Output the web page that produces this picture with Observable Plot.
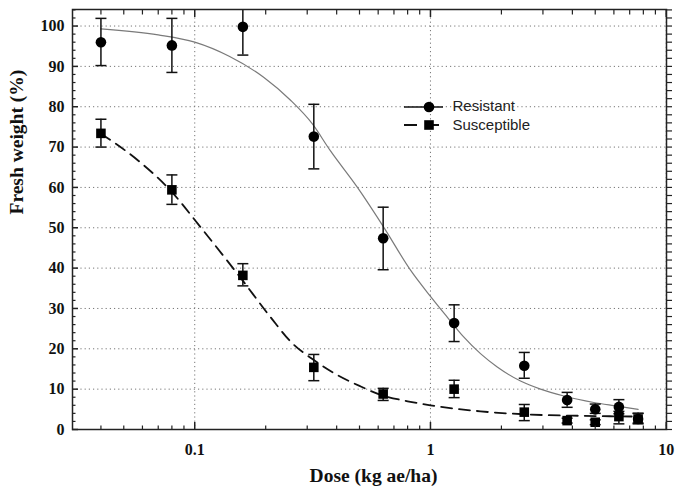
<!DOCTYPE html>
<html><head><meta charset="utf-8">
<script src="https://cdn.jsdelivr.net/npm/d3@7"></script>
<script src="https://cdn.jsdelivr.net/npm/@observablehq/plot@0.6"></script>
<style>
body{margin:0;background:#fff;}
#chart{width:676px;height:491px;}
</style></head><body><div id="chart"></div>
<script>
// Observed dose points (kg ae/ha)
const doses = [0.04, 0.08, 0.16, 0.32, 0.63, 1.26, 2.5, 3.8, 5, 6.3, 7.6];
const resistantMean = [96.0, 95.2, 99.8, 72.6, 47.4, 26.4, 15.8, 7.3, 5.0, 5.6, 2.6];
const resistantLo   = [90.2, 88.5, 92.8, 64.6, 39.6, 21.8, 12.7, 5.5, 4.0, 3.9, 1.6];
const resistantHi   = [101.9, 101.9, 106.0, 80.6, 55.1, 30.9, 19.1, 9.2, 6.3, 7.4, 4.0];
const susceptibleMean = [73.4, 59.4, 38.2, 15.4, 8.8, 10.0, 4.3, 2.2, 1.8, 3.2, 2.6];
const susceptibleLo   = [70.0, 55.8, 35.6, 12.1, 7.2, 7.9, 2.2, 1.6, 1.2, 1.4, 1.4];
const susceptibleHi   = [76.9, 63.1, 41.1, 18.6, 10.2, 12.2, 6.2, 2.8, 2.4, 4.5, 4.0];

// Fitted curves
const resistantFitDose = [0.04, 0.07, 0.1, 0.14, 0.196, 0.255, 0.315, 0.376, 0.49, 0.634, 0.823, 1.0, 1.18, 1.38, 1.63, 1.92, 2.41, 2.93, 3.68, 4.93, 6.0, 7.6];
const resistantFit     = [99.3, 97.8, 96.0, 92.5, 87.3, 81.6, 75.8, 69.1, 60.0, 50.1, 39.5, 33.0, 27.8, 23.0, 18.8, 15.5, 12.0, 10.0, 8.3, 6.7, 5.9, 5.0];
const susceptibleFitDose = [0.04, 0.058, 0.079, 0.106, 0.156, 0.21, 0.255, 0.32, 0.389, 0.5, 0.614, 0.8, 1.0, 1.63, 2.66, 4.34, 7.6];
const susceptibleFit     = [73.3, 66.5, 59.2, 50.1, 37.7, 27.8, 21.8, 17.2, 14.0, 10.8, 8.6, 7.0, 6.0, 4.5, 3.7, 3.4, 3.2];

// Axis ticks
const xMajor = [0.1, 1, 10];
const xMinor = [0.04, 0.05, 0.06, 0.07, 0.08, 0.09, 0.2, 0.3, 0.4, 0.5, 0.6, 0.7, 0.8, 0.9, 2, 3, 4, 5, 6, 7, 8, 9];
const yMajor = [0, 10, 20, 30, 40, 50, 60, 70, 80, 90, 100];
const yMinor = [2,4,6,8,12,14,16,18,22,24,26,28,32,34,36,38,42,44,46,48,52,54,56,58,62,64,66,68,72,74,76,78,82,84,86,88,92,94,96,98,102,104];

const seriesNames = ["Resistant", "Susceptible"];
const xTitle = "Dose (kg ae/ha)";
const yTitle = "Fresh weight (%)";

const resPts = doses.map((d, i) => ({dose: d, mean: resistantMean[i], lo: resistantLo[i], hi: resistantHi[i]}));
const susPts = doses.map((d, i) => ({dose: d, mean: susceptibleMean[i], lo: susceptibleLo[i], hi: susceptibleHi[i]}));
const resFit = resistantFitDose.map((d, i) => ({dose: d, value: resistantFit[i]}));
const susFit = susceptibleFitDose.map((d, i) => ({dose: d, value: susceptibleFit[i]}));

const cap = {draw(ctx, size) { const r = Math.sqrt(size / Math.PI); ctx.moveTo(-r, 0); ctx.lineTo(r, 0); }};
const serif = '"Liberation Serif", "Times New Roman", serif';
const ink = "#111";

const errMarks = (pts) => [
  Plot.ruleX(pts, {x: "dose", y1: "lo", y2: "hi", stroke: ink, strokeWidth: 1.5, clip: true}),
  Plot.dot(pts, {x: "dose", y: "lo", symbol: cap, r: 5.5, fill: "none", stroke: ink, strokeWidth: 1.5, clip: true}),
  Plot.dot(pts, {x: "dose", y: "hi", symbol: cap, r: 5.5, fill: "none", stroke: ink, strokeWidth: 1.5, clip: true})
];

const chart = Plot.plot({
  width: 676, height: 491,
  marginLeft: 72, marginRight: 10, marginTop: 9, marginBottom: 62,
  style: {fontFamily: serif, fontSize: "16px", fontWeight: "bold", color: ink, background: "#fff", overflow: "visible"},
  x: {type: "log", domain: [0.0303, 10.03]},
  y: {domain: [0, 104.1]},
  marks: [
    Plot.gridY({ticks: yMajor.filter(d => d > 0), stroke: "#777", strokeOpacity: 1, strokeWidth: 1, strokeDasharray: "1.2,3"}),
    Plot.gridX({ticks: xMajor, stroke: "#777", strokeOpacity: 1, strokeWidth: 1, strokeDasharray: "1.2,3"}),
    Plot.line(resFit, {x: "dose", y: "value", stroke: "#7a7a7a", strokeWidth: 1.2, curve: "monotone-x"}),
    Plot.line(susFit, {x: "dose", y: "value", stroke: ink, strokeWidth: 1.8, strokeDasharray: "11,7", curve: "monotone-x"}),
    ...errMarks(resPts),
    ...errMarks(susPts),
    Plot.dot(resPts, {x: "dose", y: "mean", r: 5.3, fill: "#000", symbol: "circle"}),
    Plot.dot(susPts, {x: "dose", y: "mean", r: 5.4, fill: "#000", symbol: "square"}),
    Plot.frame({stroke: "#222", strokeWidth: 1.5}),
    // inward ticks, left
    Plot.axisY({anchor: "left", ticks: yMajor, tickSize: 6, dx: 6, fill: "none", stroke: "#222", strokeWidth: 1.5, label: null}),
    Plot.axisY({anchor: "left", ticks: yMinor, tickSize: 3.5, dx: 3.5, fill: "none", stroke: "#222", strokeWidth: 1.2, label: null}),
    // right ticks (outward)
    Plot.axisY({anchor: "right", ticks: yMajor.concat(yMinor), tickSize: 5, fill: "none", stroke: "#222", strokeWidth: 1.2, label: null}),
    // bottom inward ticks
    Plot.axisX({anchor: "bottom", ticks: xMajor, tickSize: 7, dy: -7, fill: "none", stroke: "#222", strokeWidth: 1.5, label: null}),
    Plot.axisX({anchor: "bottom", ticks: xMinor, tickSize: 3.5, dy: -3.5, fill: "none", stroke: "#222", strokeWidth: 1.2, label: null}),
    // top inward ticks
    Plot.axisX({anchor: "top", ticks: xMajor, tickSize: 7, dy: 7, fill: "none", stroke: "#222", strokeWidth: 1.5, label: null}),
    Plot.axisX({anchor: "top", ticks: xMinor, tickSize: 4.5, dy: 4.5, fill: "none", stroke: "#222", strokeWidth: 1.2, label: null}),
    // tick labels
    Plot.axisY({anchor: "left", ticks: yMajor, tickSize: 0, tickPadding: 8, tickFormat: d => String(d), label: null, fill: ink, fontFamily: serif, fontSize: 16, fontWeight: "bold"}),
    Plot.axisX({anchor: "bottom", ticks: xMajor, tickSize: 0, tickPadding: 14, tickFormat: d => String(d), label: null, fill: ink, fontFamily: serif, fontSize: 16, fontWeight: "bold"}),
    // axis titles
    Plot.text([xTitle], {text: d => d, frameAnchor: "bottom", dx: 4, dy: 46, lineAnchor: "middle", fontFamily: serif, fontSize: 19.5, fontWeight: "bold", fill: ink}),
    Plot.text([yTitle], {text: d => d, frameAnchor: "left", dx: -55.5, dy: -5, rotate: -90, lineAnchor: "middle", fontFamily: serif, fontSize: 19.5, fontWeight: "bold", fill: ink})
  ]
});
document.getElementById("chart").appendChild(chart);

// Legend inside the plot area
const svg = d3.select(chart);
const lg = svg.append("g")
  .attr("font-family", '"Liberation Sans", Arial, sans-serif')
  .attr("font-size", 15).attr("font-weight", "normal").attr("text-anchor", "start");
const rows = [
  {label: seriesNames[0], cy: 107, base: 111, dash: null, sym: "circle"},
  {label: seriesNames[1], cy: 125, base: 130, dash: "13,9", sym: "square"}
];
rows.forEach(r => {
  const line = lg.append("line").attr("x1", 404).attr("x2", 443).attr("y1", r.cy).attr("y2", r.cy)
    .attr("stroke", ink).attr("stroke-width", r.dash ? 1.8 : 1.5);
  if (r.dash) line.attr("stroke-dasharray", r.dash);
  if (r.sym === "circle") lg.append("circle").attr("cx", 429).attr("cy", r.cy).attr("r", 5.3).attr("fill", "#000");
  else lg.append("rect").attr("x", 429 - 4.8).attr("y", r.cy - 4.8).attr("width", 9.6).attr("height", 9.6).attr("fill", "#000");
  lg.append("text").attr("x", 452.5).attr("y", r.base).attr("text-anchor", "start").attr("fill", "#222").text(r.label);
});
</script>
</body></html>
